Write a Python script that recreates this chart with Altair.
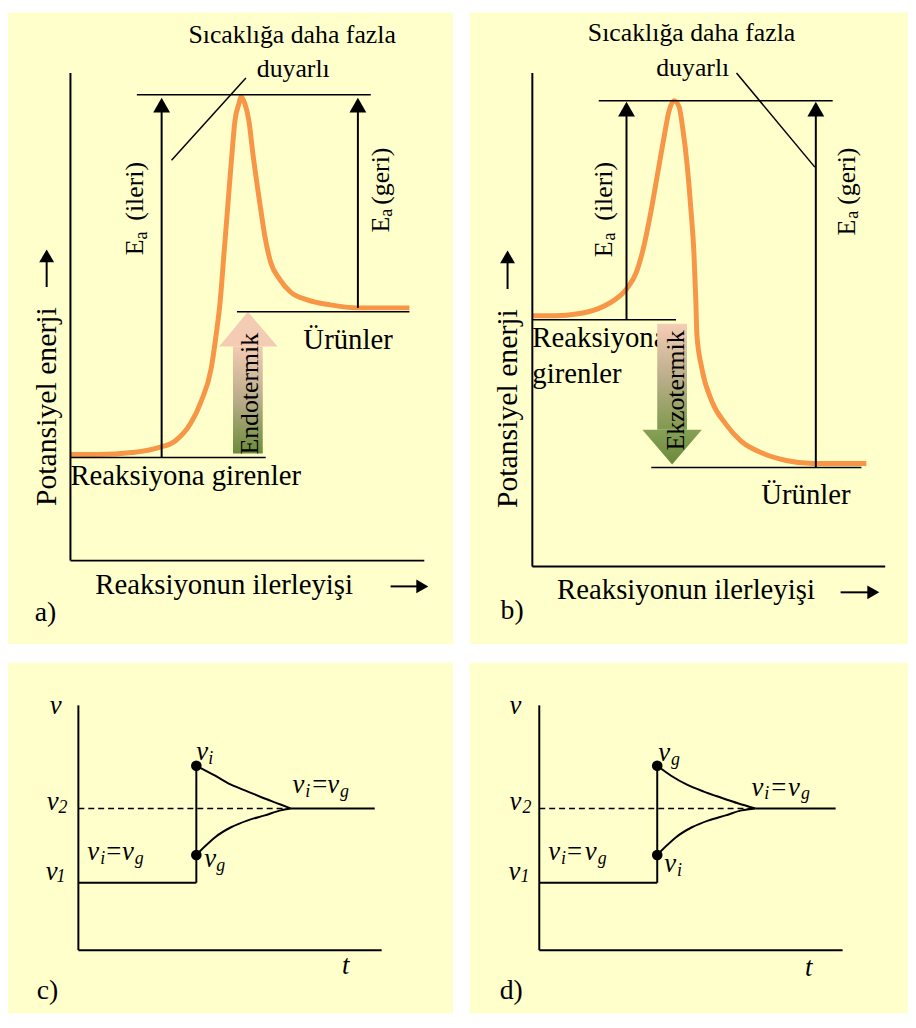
import altair as alt
import pandas as pd

# ---------------- data (image pixel units) ----------------
panel_x0 = [8, 474, 8, 474]
panel_x1 = [457, 916, 457, 916]
panel_y0 = [8, 8, 664, 664]
panel_y1 = [645, 645, 1018, 1018]

# straight segments: (x, y, x2, y2)
axis_segs = [(71, 69, 71, 561), (71, 561, 428, 561),
             (537, 69, 537, 567), (537, 567, 893, 567),
             (79, 707, 79, 954), (79, 954, 385, 954),
             (544, 707, 544, 954), (544, 954, 850, 954)]
shaft_segs = [(163, 457, 163, 105), (361, 306, 361, 105),
              (632, 318, 632, 110), (823, 467, 823, 110),
              (47, 285, 47, 258), (512, 287, 512, 259),
              (394, 587, 422, 587), (848, 593, 877, 593)]
level_segs = [(138, 91, 374, 91), (239, 310, 413, 310), (71, 457, 268, 457),
              (604, 97, 840, 97), (537, 318, 682, 318), (657, 467, 869, 467),
              (248, 74, 173, 157), (743, 69, 822, 164)]
step_segs = [(79, 886, 198, 886), (198, 886, 198, 768), (293, 811, 378, 811),
             (544, 886, 663, 886), (663, 886, 663, 768), (762, 811, 843, 811)]
dash_segs = [(79, 811, 293, 811), (544, 811, 762, 811)]

# energy profiles (orange)
curve_a = [(71, 454), (100, 454), (133, 452), (160, 447), (177, 440), (192, 423), (203, 400),
           (213, 367), (218, 333), (222, 300), (226, 250), (230, 200), (234, 150), (237, 117),
           (241, 100), (243, 93), (247, 100), (251, 117), (255, 150), (262, 200), (267, 233),
           (273, 260), (282, 277), (293, 290), (310, 298), (333, 303), (360, 306), (413, 306)]
curve_b = [(537, 314), (560, 314), (583, 312), (603, 307), (617, 300), (632, 287), (642, 270),
           (648, 250), (657, 207), (664, 167), (670, 133), (675, 107), (680, 97), (685, 103),
           (689, 127), (693, 160), (697, 207), (700, 250), (702, 300), (703, 333), (708, 367),
           (718, 400), (732, 423), (747, 440), (770, 453), (793, 460), (820, 463), (874, 463)]

# rate curves (black)
c_up = [(198, 768), (217, 778), (233, 787), (250, 794), (267, 801), (283, 807), (293, 811)]
c_lo = [(198, 858), (207, 849), (217, 840), (233, 830), (250, 823), (267, 818), (283, 813), (293, 811)]
d_up = [(663, 768), (677, 778), (693, 787), (710, 794), (727, 800), (745, 806), (762, 811)]
d_lo = [(663, 858), (672, 849), (682, 840), (698, 830), (715, 823), (732, 818), (748, 813), (762, 811)]

dots = [(198, 768), (198, 858), (663, 768), (663, 858)]
heads_up = [(163, 101.5), (361, 101.5), (632, 105.5), (823, 105.5)]
heads_up_small = [(47, 253.5), (512, 254.5)]
heads_right = [(426, 587), (881, 593)]

# gradient arrows
endo_shaft = [(235, 345, 265, 453)]
exo_shaft = [(663, 322, 693, 429)]
endo_head = [(221, 345), (250, 310), (280, 345)]
exo_head = [(648, 429), (678, 464), (708, 429)]
endo_base = 345
exo_base = 429

# texts: (text, x, y, size, angle)
texts_plain = [
    ("Sıcaklığa daha fazla", 190, 39, 26, 0), ("duyarlı", 259, 73, 26, 0),
    ("Ürünler", 306, 348, 29, 0), ("Reaksiyona girenler", 71, 485, 29, 0),
    ("Reaksiyonun ilerleyişi", 96, 595, 29, 0), ("a)", 35, 622, 28, 0),
    ("Potansiyel enerji", 56, 506, 30, 270),
    ("E", 144, 253, 26, 270), ("a", 148, 237, 18, 270), ("(ileri)", 144, 218, 26, 270),
    ("E", 392, 230, 26, 270), ("a", 395, 214, 18, 270), ("(geri)", 392, 202, 26, 270),
    ("Sıcaklığa daha fazla", 593, 37, 26, 0), ("duyarlı", 662, 72, 26, 0),
    ("Reaksiyona", 537, 345, 29, 0), ("girenler", 537, 382, 29, 0),
    ("Ürünler", 768, 504, 29, 0), ("Reaksiyonun ilerleyişi", 562, 600, 29, 0),
    ("b)", 505, 620, 28, 0), ("Potansiyel enerji", 522, 508, 30, 270),
    ("E", 617, 255, 26, 270), ("a", 620, 238, 18, 270), ("(ileri)", 617, 218, 26, 270),
    ("E", 863, 233, 26, 270), ("a", 866, 216, 18, 270), ("(geri)", 863, 202, 26, 270),
    ("=", 107, 863, 27, 0), ("=", 315, 795, 27, 0), ("c)", 37, 1003, 28, 0),
    ("=", 572, 863, 27, 0), ("=", 778, 798, 27, 0), ("d)", 504, 1003, 28, 0),
]
texts_arrow = [("Endotermik", 260, 454, 26, 270), ("Ekzotermik", 690, 450, 26, 270)]
texts_italic = [
    ("v", 50, 716, 27, 0), ("v", 47, 813, 27, 0), ("2", 59, 816, 18, 0),
    ("v", 46, 883, 27, 0), ("1", 57, 885, 18, 0),
    ("v", 88, 863, 27, 0), ("i", 101, 867, 18, 0), ("v", 123, 863, 27, 0), ("g", 136, 867, 18, 0),
    ("v", 295, 795, 27, 0), ("i", 308, 799, 18, 0), ("v", 330, 795, 27, 0), ("g", 343, 799, 18, 0),
    ("v", 198, 762, 27, 0), ("i", 210, 766, 18, 0),
    ("v", 206, 870, 27, 0), ("g", 218, 874, 18, 0),
    ("t", 345, 978, 27, 0),
    ("v", 514, 716, 27, 0), ("v", 514, 813, 27, 0), ("2", 527, 816, 18, 0),
    ("v", 513, 883, 27, 0), ("1", 525, 885, 18, 0),
    ("v", 553, 863, 27, 0), ("i", 566, 867, 18, 0), ("v", 590, 863, 27, 0), ("g", 603, 867, 18, 0),
    ("v", 758, 798, 27, 0), ("i", 771, 802, 18, 0), ("v", 795, 798, 27, 0), ("g", 808, 802, 18, 0),
    ("v", 664, 763, 27, 0), ("g", 677, 767, 18, 0),
    ("v", 670, 875, 27, 0), ("i", 683, 879, 18, 0),
    ("t", 812, 980, 27, 0),
]

# ---------------- chart ----------------
XS = alt.Scale(domain=[8, 916], nice=False, zero=False)
YS = alt.Scale(domain=[8, 1028], nice=False, zero=False, reverse=True)
FONT = "Liberation Serif"


def xy():
    return dict(x=alt.X("x:Q", scale=XS, axis=None), y=alt.Y("y:Q", scale=YS, axis=None))


def seg_df(segs):
    return pd.DataFrame(segs, columns=["x", "y", "x2", "y2"])


def rules(segs, width, dash=None):
    kw = dict(color="black", strokeWidth=width)
    if dash:
        kw["strokeDash"] = dash
    return alt.Chart(seg_df(segs)).mark_rule(**kw).encode(**xy(), x2="x2:Q", y2="y2:Q")


def curves(lists, color, width):
    rows = []
    for cid, pts in enumerate(lists):
        for i, (x, y) in enumerate(pts):
            rows.append({"id": cid, "i": i, "x": x, "y": y})
    return alt.Chart(pd.DataFrame(rows)).mark_line(
        color=color, strokeWidth=width, interpolate="monotone", strokeCap="butt"
    ).encode(**xy(), detail="id:N", order="i:Q")


def pts_df(pts):
    return pd.DataFrame(pts, columns=["x", "y"])


def text_layer(rows, italic=False):
    df = pd.DataFrame(rows, columns=["text", "x", "y", "size", "angle"])
    kw = dict(font=FONT, align="left", baseline="alphabetic", color="black")
    if italic:
        kw["fontStyle"] = "italic"
    return alt.Chart(df).mark_text(**kw).encode(
        **xy(), text="text:N",
        size=alt.Size("size:Q", scale=None),
        angle=alt.Angle("angle:Q", scale=None))


def grad(stops):
    return alt.LinearGradient(gradient="linear", x1=0, y1=0, x2=0, y2=1,
                              stops=[alt.GradientStop(offset=o, color=c) for o, c in stops])


panels = alt.Chart(pd.DataFrame({"x": panel_x0, "x2": panel_x1, "y": panel_y0, "y2": panel_y1})) \
    .mark_rect(color="#FFFFCC").encode(**xy(), x2="x2:Q", y2="y2:Q")

endo_shaft_l = alt.Chart(seg_df(endo_shaft)).mark_rect(
    fill=grad([(0, "#F3CBB3"), (0.5, "#B9AC8A"), (1, "#6C8C3B")])).encode(**xy(), x2="x2:Q", y2="y2:Q")
exo_shaft_l = alt.Chart(seg_df(exo_shaft)).mark_rect(
    fill=grad([(0, "#F4CDB5"), (0.5, "#BCAE8C"), (1, "#80994F")])).encode(**xy(), x2="x2:Q", y2="y2:Q")

endo_df = pts_df(endo_head)
endo_df["y2"] = endo_base
exo_df = pts_df(exo_head)
exo_df["y2"] = exo_base
endo_head_l = alt.Chart(endo_df).mark_area(fill="#F4CBB3", orient="vertical").encode(**xy(), y2="y2:Q")
exo_head_l = alt.Chart(exo_df).mark_area(
    fill=grad([(0, "#87A057"), (1, "#6A8A3A")]), orient="vertical").encode(**xy(), y2="y2:Q")

orange = curves([curve_a, curve_b], "#F79646", 5)
black_curves = curves([c_up, c_lo, d_up, d_lo], "black", 2)

dots_l = alt.Chart(pts_df(dots)).mark_circle(size=115, color="black", opacity=1).encode(**xy())
tri_up = alt.Chart(pts_df(heads_up)).mark_point(
    shape="triangle-up", filled=True, size=289, color="black", opacity=1, strokeWidth=0).encode(**xy())
tri_up_s = alt.Chart(pts_df(heads_up_small)).mark_point(
    shape="triangle-up", filled=True, size=225, color="black", opacity=1, strokeWidth=0).encode(**xy())
tri_r = alt.Chart(pts_df(heads_right)).mark_point(
    shape="triangle-right", filled=True, size=196, color="black", opacity=1, strokeWidth=0).encode(**xy())

chart = alt.layer(
    panels,
    text_layer(texts_plain),
    endo_shaft_l, endo_head_l, exo_shaft_l, exo_head_l,
    text_layer(texts_arrow),
    orange,
    rules(axis_segs, 2), rules(shaft_segs, 2), rules(level_segs, 1.5),
    rules(step_segs, 2), rules(dash_segs, 1.5, dash=[6, 4]),
    black_curves, dots_l, tri_up, tri_up_s, tri_r,
    text_layer(texts_italic, italic=True),
).properties(
    width=908, height=1020, padding=0, autosize="none", background="white"
).configure_view(stroke=None)

chart.save("out.html", embed_options={"renderer": "svg", "actions": False})
